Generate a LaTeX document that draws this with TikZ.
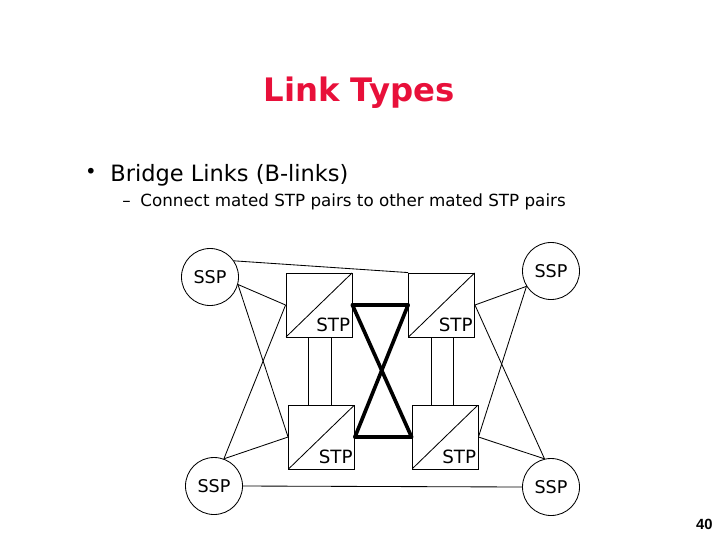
\documentclass[tikz,border=0pt]{standalone}
\usepackage{fontspec}
\setmainfont{DejaVu Sans}
\newfontfamily\pagefont{Liberation Sans}
\usetikzlibrary{positioning,calc}
\definecolor{titlered}{RGB}{232,16,58}

\begin{document}
\begin{tikzpicture}[
  x=0.025cm, y=-0.025cm,
  line width=0.6pt,
  ssp/.style={
    draw=black,
    circle,
    inner sep=0pt,
    minimum size=1.425cm,
    font=\fontsize{12.5pt}{14pt}\selectfont
  },
  stp/.style={
    draw=black,
    rectangle,
    inner sep=0pt,
    minimum width=1.65cm,
    minimum height=1.6cm,
    path picture={\draw (path picture bounding box.south west) -- (path picture bounding box.north east);},
    label={[anchor=base east, inner sep=0pt, xshift=-1.4pt, yshift=4.3pt,
            font=\fontsize{13pt}{15pt}\selectfont]south east:STP}
  },
  blink/.style={line width=2.6pt, line cap=round, line join=round}
]
\useasboundingbox (0,0) rectangle (720,540);

% -------- Text --------
\node[font=\fontsize{23pt}{27pt}\selectfont\bfseries, text=titlered] (title) at (359,93) {Link Types};
\node[anchor=center, font=\fontsize{14pt}{16pt}\selectfont] (bullet) at (91,173) {\textbullet};
\node[anchor=base west, inner sep=0pt, font=\fontsize{16pt}{19pt}\selectfont] (item) at (110,181) {Bridge Links (B-links)};
\node[anchor=base west, inner sep=0pt, font=\fontsize{11.9pt}{14pt}\selectfont] (dash) at (122,206) {--};
\node[anchor=base west, inner sep=0pt, font=\fontsize{11.9pt}{14pt}\selectfont] (subitem) at (140,206) {Connect mated STP pairs to other mated STP pairs};

% -------- SSPs --------
\node[ssp] (ssptl) at (210,277) {SSP};
\node[ssp] (ssptr) at (551,271) {SSP};
\node[ssp] (sspbl) at (214,486) {SSP};
\node[ssp] (sspbr) at (551,487) {SSP};

% -------- STPs --------
\node[stp] (stptl) at (319,305) {};
\node[stp] (stptr) at (441.5,305) {};
\node[stp] (stpbl) at (321.5,437) {};
\node[stp] (stpbr) at (445,437) {};

% -------- Mated pairs (C-links) --------
\draw ([xshift=-0.27cm]stptl.south) -- ([xshift=-0.27cm]stptl.south |- stpbl.north);
\draw ([xshift=0.32cm]stptl.south) -- ([xshift=0.32cm]stptl.south |- stpbl.north);
\draw ([xshift=-0.24cm]stptr.south) -- ([xshift=-0.24cm]stptr.south |- stpbr.north);
\draw ([xshift=0.31cm]stptr.south) -- ([xshift=0.31cm]stptr.south |- stpbr.north);

% -------- Access links --------
\draw (ssptl.34) -- (stptr.north west);
\draw (ssptl.-15) -- (stptl.west);
\draw (ssptl.-15) -- (stpbl.west);
\draw (sspbl.70) -- (stptl.west);
\draw (sspbl.70) -- (stpbl.west);
\draw (sspbl.east) -- (sspbr.west);
\draw (ssptr.212) -- (stptr.east);
\draw (ssptr.212) -- (stpbr.east);
\draw (stptr.east) -- (sspbr.103);
\draw (stpbr.east) -- (sspbr.103);

% -------- Bridge links --------
\draw[blink] (stptl.east) -- (stptr.west);
\draw[blink] (stpbl.east) -- (stpbr.west);
\draw[blink] (stptl.east) -- (stpbr.west);
\draw[blink] (stptr.west) -- (stpbl.east);

% -------- Page number --------
\node[anchor=base east, inner sep=0pt, font=\pagefont\fontsize{10.5pt}{12pt}\selectfont\bfseries] (pagenum) at (713,529) {40};

\end{tikzpicture}
\end{document}
